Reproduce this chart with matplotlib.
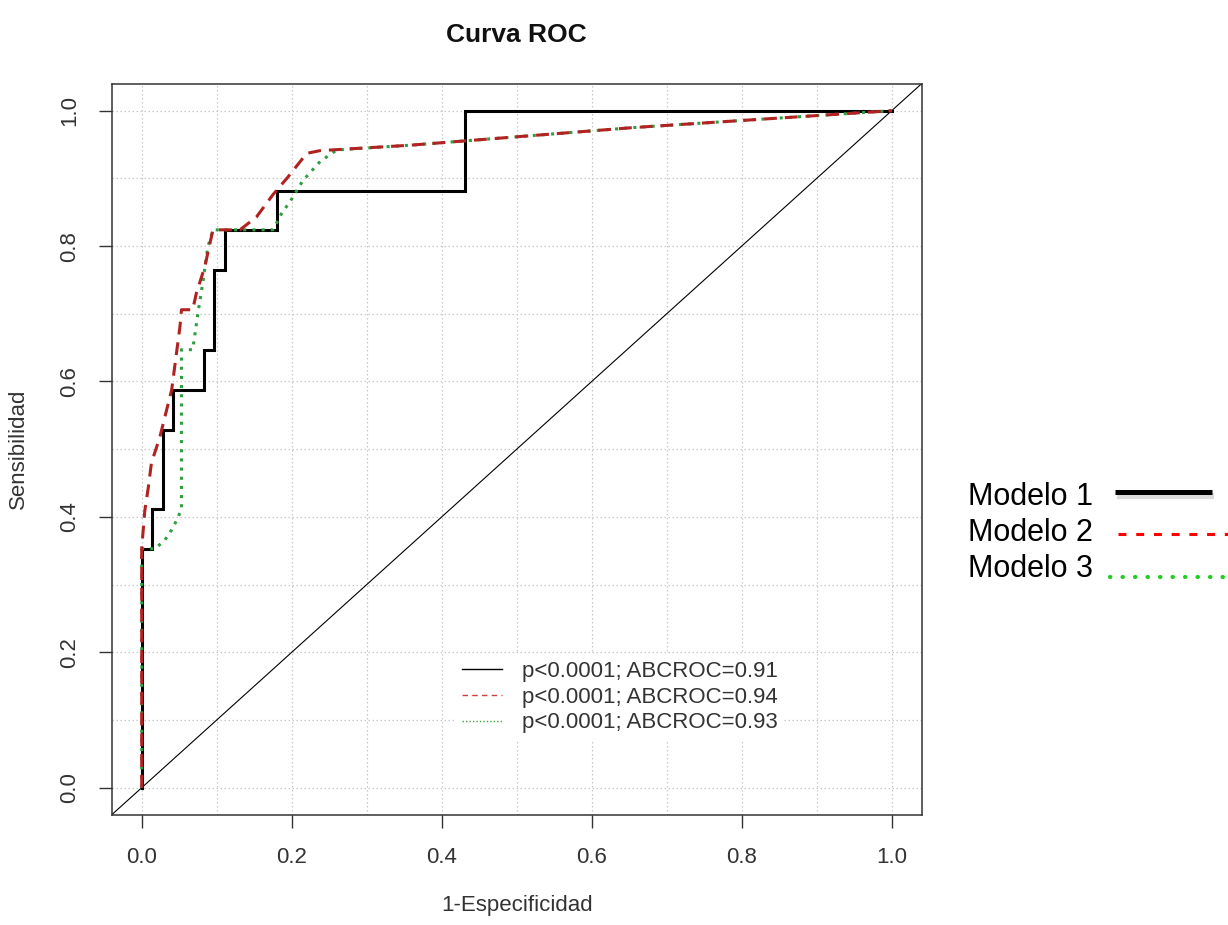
import matplotlib
matplotlib.use('Agg')
import matplotlib.pyplot as plt
from matplotlib.lines import Line2D
import numpy as np

plt.rcParams['font.family'] = ['Liberation Sans', 'DejaVu Sans']

# ---------------- data ----------------
m1_fpr = [0, 0, 0.014, 0.014, 0.028, 0.028, 0.042, 0.042, 0.083, 0.083, 0.097, 0.097,
          0.111, 0.111, 0.181, 0.181, 0.431, 0.431, 1.0]
m1_tpr = [0, 0.353, 0.353, 0.412, 0.412, 0.529, 0.529, 0.588, 0.588, 0.647, 0.647, 0.765,
          0.765, 0.824, 0.824, 0.882, 0.882, 1.0, 1.0]

m2_fpr = [0, 0, 0.004, 0.009, 0.013, 0.024, 0.040, 0.051, 0.053, 0.068, 0.073, 0.084,
          0.095, 0.131, 0.153, 0.175, 0.195, 0.220, 0.238, 0.358, 0.655, 1.0]
m2_tpr = [0, 0.353, 0.408, 0.445, 0.480, 0.517, 0.588, 0.681, 0.706, 0.706, 0.731, 0.769,
          0.824, 0.824, 0.843, 0.876, 0.902, 0.937, 0.941, 0.949, 0.975, 1.0]

m3_fpr = [0, 0, 0.018, 0.031, 0.040, 0.048, 0.053, 0.053, 0.068, 0.075, 0.082, 0.088,
          0.095, 0.175, 0.187, 0.198, 0.215, 0.238, 0.260, 0.358, 0.655, 1.0]
m3_tpr = [0, 0.353, 0.353, 0.366, 0.381, 0.398, 0.412, 0.647, 0.647, 0.701, 0.750, 0.798,
          0.824, 0.824, 0.849, 0.866, 0.897, 0.925, 0.942, 0.949, 0.975, 1.0]

tick_values = [0.0, 0.2, 0.4, 0.6, 0.8, 1.0]
tick_labels = ['0.0', '0.2', '0.4', '0.6', '0.8', '1.0']
grid_minor = [0.1, 0.3, 0.5, 0.7, 0.9]

inner_labels = ['p<0.0001; ABCROC=0.91', 'p<0.0001; ABCROC=0.94', 'p<0.0001; ABCROC=0.93']
outer_labels = ['Modelo 1', 'Modelo 2', 'Modelo 3']

title = 'Curva ROC'
xlabel = '1-Especificidad'
ylabel = 'Sensibilidad'

# ---------------- styles ----------------
C_RED = '#B22222'
C_GREEN = '#2E9E3E'
RED_DASH = (0, (4.2, 2.6))
GREEN_DOT = (0, (1.0, 2.0))

W, H = 1228, 925
fig = plt.figure(figsize=(W / 100, H / 100), dpi=100)
L, R, T, B = 111.7, 921.7, 83.6, 814.8
ax = fig.add_axes([L / W, 1 - B / H, (R - L) / W, (B - T) / H])

ax.set_xlim(-0.04, 1.04)
ax.set_ylim(-0.04, 1.04)

# grid every 0.1
ax.set_xticks(tick_values)
ax.set_yticks(tick_values)
ax.set_xticks(grid_minor, minor=True)
ax.set_yticks(grid_minor, minor=True)
ax.set_xticklabels(tick_labels)
ax.set_yticklabels(tick_labels)
ax.grid(which='both', color='#C8C8C8', linestyle=(0, (1.2, 2.0)), linewidth=0.9)
ax.set_axisbelow(True)

ax.tick_params(axis='both', which='major', length=9.4, width=1.0, pad=13.5,
               labelsize=16, colors='#333333', labelcolor='#333333', direction='out')
ax.tick_params(axis='both', which='minor', length=0)
ax.tick_params(axis='y', labelrotation=90)
for lbl in ax.get_yticklabels():
    lbl.set_va('center')

for s in ax.spines.values():
    s.set_linewidth(1.1)
    s.set_color('#333333')

# diagonal reference
ax.axline((0, 0), (1, 1), color='black', lw=0.8, zorder=2)

# curves
ax.plot(m1_fpr, m1_tpr, color='black', lw=2.2, zorder=3, solid_joinstyle='miter')
ax.plot(m3_fpr, m3_tpr, color=C_GREEN, lw=2.2, linestyle=GREEN_DOT, zorder=4)
ax.plot(m2_fpr, m2_tpr, color=C_RED, lw=2.2, linestyle=RED_DASH, zorder=5)

# inner legend
handles = [Line2D([], [], color='black', lw=1.0),
           Line2D([], [], color='#D04040', lw=1.0, linestyle=(0, (4, 3))),
           Line2D([], [], color='#40A040', lw=1.0, linestyle=(0, (1, 1.5)))]
leg = ax.legend(handles, inner_labels, loc='upper left',
                bbox_to_anchor=((455 - L) / (R - L), (B - 654) / (B - T)),
                borderaxespad=0, borderpad=0.3, frameon=True, fancybox=False,
                facecolor='white', edgecolor='none', framealpha=1.0,
                handlelength=1.8, handletextpad=0.9, labelspacing=0.22, fontsize=16)
for t in leg.get_texts():
    t.set_color('#333333')

# title and axis labels
ax.set_title(title, fontsize=19, fontweight='bold', pad=30, color='#111111')
ax.set_xlabel(xlabel, fontsize=16, color='#333333')
ax.set_ylabel(ylabel, fontsize=16, color='#333333')
ax.xaxis.set_label_coords(0.5, (B - 906) / (B - T))
ax.xaxis.label.set_va('center')
ax.yaxis.set_label_coords((18 - L) / (R - L), 0.5)
ax.yaxis.label.set_va('center')

# outer (pasted) legend
def fx(x):
    return x / W

def fy(y):
    return 1 - y / H

row_y = [497, 533, 569]
for lab, yy in zip(outer_labels, row_y):
    fig.text(fx(968), fy(yy), lab, fontsize=22, ha='left', va='center', color='black')

# Modelo 1 line with soft shadow
fig.add_artist(Line2D([fx(1117), fx(1214)], [fy(496), fy(496)], transform=fig.transFigure,
                      color='#999999', lw=4.5, alpha=0.35, solid_capstyle='butt'))
fig.add_artist(Line2D([fx(1115), fx(1212)], [fy(492), fy(492)], transform=fig.transFigure,
                      color='black', lw=3.6, solid_capstyle='butt'))
# Modelo 2 red dashes
fig.add_artist(Line2D([fx(1118), fx(1228)], [fy(534), fy(534)], transform=fig.transFigure,
                      color='#FF0000', lw=2.2, linestyle=(0, (2.6, 3.2)), dash_capstyle='butt'))
# Modelo 3 green dots
fig.add_artist(Line2D([fx(1110), fx(1228)], [fy(577), fy(577)], transform=fig.transFigure,
                      color='#22CC22', lw=3.0, linestyle=(0, (0.1, 2.9)), dash_capstyle='round'))

fig.savefig('out.png', dpi=100)
